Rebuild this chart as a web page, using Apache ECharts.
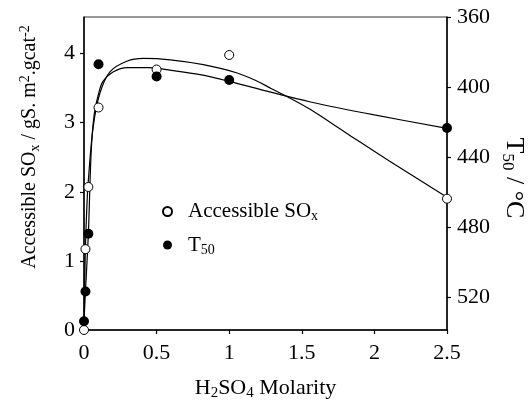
<!DOCTYPE html>
<html>
<head>
<meta charset="utf-8">
<script src="https://cdn.jsdelivr.net/npm/echarts@6/dist/echarts.min.js"></script>
<style>
  html, body { margin: 0; padding: 0; background: #fff; }
  #chart { width: 529px; height: 400px; }
</style>
</head>
<body>
<div id="chart"></div>
<script>
// measured points
const soxX = [0, 0.01, 0.03, 0.1, 0.5, 1.0, 2.5];
const soxY = [0, 1.17, 2.07, 3.22, 3.77, 3.98, 1.9];
const t50X = [0, 0.01, 0.03, 0.1, 0.5, 1.0, 2.5];
const t50Y = [534, 517, 484, 387, 394, 396, 423.5];

// fitted curves
const soxCurveX = [0, 0.005, 0.01, 0.02, 0.03, 0.064, 0.11, 0.18, 0.295, 0.41, 0.594, 0.822, 1.055, 1.193, 1.285, 1.443, 1.56, 1.8, 2.1, 2.5];
const soxCurveY = [0, 0.65, 1.2, 1.8, 2.17, 2.95, 3.43, 3.74, 3.89, 3.93, 3.91, 3.84, 3.72, 3.6, 3.5, 3.33, 3.19, 2.86, 2.45, 1.92];
const t50CurveX = [0, 0.01, 0.03, 0.05, 0.07, 0.1, 0.13, 0.2, 0.3, 0.45, 0.6, 0.8, 1.0, 1.285, 1.56, 2.0, 2.5];
const t50CurveY = [534, 517, 484, 436, 416, 404, 397, 391.5, 389, 389, 390.5, 393, 396.8, 403, 408.6, 416, 423.7];

// axis ticks
const xTicks = [0, 0.5, 1, 1.5, 2, 2.5];
const leftTicks = [0, 1, 2, 3, 4];
const rightTicks = [360, 400, 440, 480, 520];

const FONT = '"Liberation Serif", "Times New Roman", serif';

function zip(xs, ys) {
  return xs.map((x, i) => [x, ys[i]]);
}

const chart = echarts.init(document.getElementById('chart'));

const axisLine = { show: true, lineStyle: { color: '#000', width: 1.5 } };
const tickStyle = { show: true, inside: false, length: 4, lineStyle: { color: '#000', width: 1.2 } };
const labelStyle = { color: '#000', fontFamily: FONT, fontSize: 22 };

const option = {
  animation: false,
  grid: {
    left: 84, right: 82, top: 17, bottom: 70,
    containLabel: false, outerBoundsMode: 'none',
    show: true, borderColor: '#333', borderWidth: 1
  },
  xAxis: {
    type: 'value', min: 0, max: 2.5,
    axisLine, splitLine: { show: false },
    axisTick: Object.assign({ customValues: xTicks }, tickStyle),
    axisLabel: Object.assign({ margin: 12, customValues: xTicks }, labelStyle),
    name: '{n|H}{s|2}{n|SO}{s|4}{n| Molarity}',
    nameLocation: 'middle', nameGap: 45,
    nameTextStyle: {
      fontFamily: FONT, color: '#000',
      rich: {
        n: { fontFamily: FONT, fontSize: 22, lineHeight: 26, color: '#000', verticalAlign: 'middle' },
        s: { fontFamily: FONT, fontSize: 15, lineHeight: 15, color: '#000', verticalAlign: 'bottom' }
      }
    }
  },
  yAxis: [
    {
      type: 'value', position: 'left', min: 0, max: 4.53,
      axisLine, splitLine: { show: false },
      axisTick: Object.assign({ customValues: leftTicks }, tickStyle),
      axisLabel: Object.assign({ margin: 9, customValues: leftTicks }, labelStyle)
    },
    {
      type: 'value', position: 'right', inverse: true, min: 360, max: 539,
      axisLine, splitLine: { show: false },
      axisTick: Object.assign({ customValues: rightTicks }, tickStyle),
      axisLabel: Object.assign({ margin: 10, customValues: rightTicks }, labelStyle)
    }
  ],
  legend: {
    orient: 'vertical', left: 157, top: 196,
    itemWidth: 9, itemHeight: 9, itemGap: 11,
    data: ['Accessible SOx', 'T50'],
    formatter: (name) => name === 'T50' ? '{n|T}{s|50}' : '{n|Accessible SO}{s|x}',
    textStyle: {
      fontFamily: FONT, color: '#000', padding: [0, 0, 0, 11],
      rich: {
        n: { fontFamily: FONT, fontSize: 21, lineHeight: 24, color: '#000', verticalAlign: 'middle' },
        s: { fontFamily: FONT, fontSize: 14, lineHeight: 14, color: '#000', verticalAlign: 'bottom' }
      }
    }
  },
  graphic: [
    {
      type: 'text', x: 30, y: 147, rotation: Math.PI / 2,
      style: {
        text: '{n|Accessible SO}{s|x}{n| / gS. m}{p|2}{n|.gcat}{p|-2}',
        align: 'center', verticalAlign: 'middle',
        rich: {
          n: { fontFamily: FONT, fontSize: 20, lineHeight: 24, fill: '#000', verticalAlign: 'middle' },
          s: { fontFamily: FONT, fontSize: 14, lineHeight: 14, fill: '#000', verticalAlign: 'bottom' },
          p: { fontFamily: FONT, fontSize: 14, lineHeight: 14, fill: '#000', verticalAlign: 'top' }
        }
      }
    },
    {
      type: 'text', x: 514, y: 178, rotation: -Math.PI / 2,
      style: {
        text: '{n|T}{s|50}{n| / °C}',
        align: 'center', verticalAlign: 'middle',
        rich: {
          n: { fontFamily: FONT, fontSize: 26, lineHeight: 30, fill: '#000', verticalAlign: 'middle' },
          s: { fontFamily: FONT, fontSize: 17, lineHeight: 17, fill: '#000', verticalAlign: 'bottom' }
        }
      }
    }
  ],
  series: [
    {
      name: 'soxCurve', type: 'line', yAxisIndex: 0, data: zip(soxCurveX, soxCurveY),
      smooth: 0.35, showSymbol: false, silent: true,
      lineStyle: { color: '#000', width: 1.2 }, z: 2
    },
    {
      name: 't50Curve', type: 'line', yAxisIndex: 1, data: zip(t50CurveX, t50CurveY),
      smooth: 0.35, showSymbol: false, silent: true,
      lineStyle: { color: '#000', width: 1.2 }, z: 2
    },
    {
      name: 'Accessible SOx', type: 'scatter', yAxisIndex: 0, data: zip(soxX, soxY),
      symbol: 'circle', symbolSize: 9,
      itemStyle: { color: '#fff', borderColor: '#000', borderWidth: 1, opacity: 1 }, z: 5
    },
    {
      name: 'T50', type: 'scatter', yAxisIndex: 1, data: zip(t50X, t50Y),
      symbol: 'circle', symbolSize: 10,
      itemStyle: { color: '#000', opacity: 1 }, z: 5
    }
  ]
};

chart.setOption(option);
</script>
</body>
</html>
